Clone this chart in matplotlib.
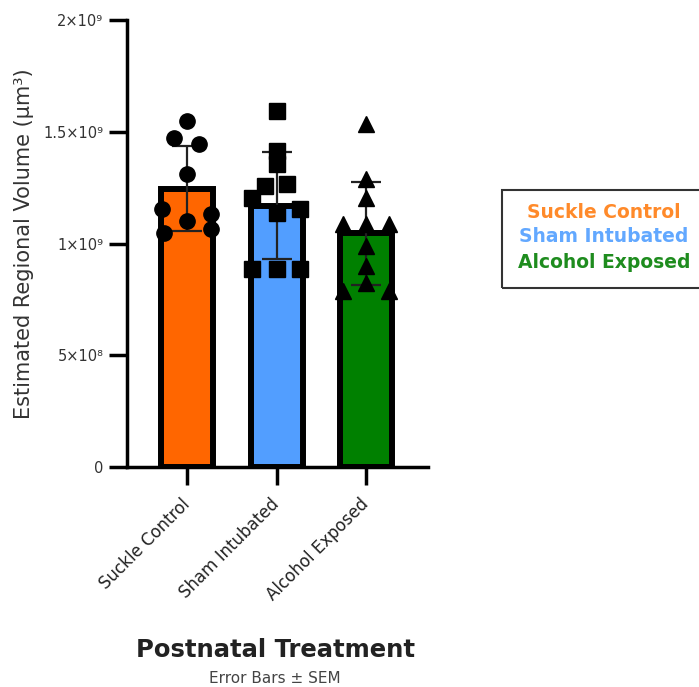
import matplotlib.pyplot as plt
import numpy as np
from matplotlib.patches import Rectangle

groups = ["Suckle Control", "Sham Intubated", "Alcohol Exposed"]
means = [1.245e9, 1.17e9, 1.045e9]
sem = [0.19e9, 0.24e9, 0.23e9]
suckle = [1.548e9, 1.472e9, 1.445e9, 1.311e9, 1.154e9, 1.132e9, 1.101e9, 1.047e9, 1.065e9]
sham = [1.593e9, 1.414e9, 1.356e9, 1.257e9, 1.266e9, 1.204e9, 1.154e9, 1.136e9, 0.886e9, 0.886e9, 0.886e9]
alcohol = [1.535e9, 1.289e9, 1.204e9, 1.087e9, 1.087e9, 1.087e9, 0.989e9, 0.90e9, 0.823e9, 0.787e9, 0.787e9]
yticks = [0, 5e8, 1e9, 1.5e9, 2e9]
ytick_labels = ["0", "5×10⁸", "1×10⁹", "1.5×10⁹", "2×10⁹"]

# horizontal spread of the dots inside each bar (layout only)
jit_suckle = [0, -0.145, 0.135, 0, -0.28, 0.27, 0, -0.26, 0.27]
jit_sham = [0, 0, 0, -0.13, 0.12, -0.28, 0.26, 0, -0.28, 0, 0.26]
jit_alcohol = [0, 0, 0, -0.26, 0, 0.26, 0, 0, 0, -0.26, 0.26]

bar_colors = ["#FF6600", "#529EFF", "#008000"]
text_colors = ["#FF8A2A", "#62A8FF", "#1E8C1E"]
markers = ["o", "s", "^"]

plt.rcParams.update({"font.family": "DejaVu Sans"})

fig = plt.figure(figsize=(6.99, 6.87), dpi=100)
ax = fig.add_axes([127/699, 1-467/687, 301/699, 447/687])

x = np.arange(len(groups))
ax.bar(x, means, width=0.58, color=bar_colors, edgecolor="black", linewidth=4.3, zorder=2)
ax.errorbar(x, means, yerr=sem, fmt="none", ecolor="#222222", elinewidth=1.6,
            capsize=11, capthick=1.6, zorder=3)

for i, (vals, jit) in enumerate([(suckle, jit_suckle), (sham, jit_sham), (alcohol, jit_alcohol)]):
    ax.plot(i + np.array(jit), vals, linestyle="none", marker=markers[i],
            markersize=11, color="black", zorder=4, clip_on=False)

ax.set_xlim(-0.67, 2.69)
ax.set_ylim(0, 2e9)
ax.set_yticks(yticks)
ax.set_yticklabels(ytick_labels, fontsize=10.5, color="#333333")
ax.set_xticks(x)
ax.set_xticklabels(groups, rotation=45, ha="right", va="center", rotation_mode="anchor",
                   fontsize=12, color="#222222")
ax.tick_params(axis="both", length=13, width=2.5, color="black")
ax.tick_params(axis="y", pad=4)
ax.tick_params(axis="x", pad=12)
for s in ["top", "right"]:
    ax.spines[s].set_visible(False)
for s in ["left", "bottom"]:
    ax.spines[s].set_linewidth(2.5)

ax.set_ylabel("Estimated Regional Volume (μm³)", fontsize=15, color="#333333")
ax.yaxis.set_label_coords(-0.31, 0.5)

fig.text(276/699, 1-657/687, "Postnatal Treatment", fontsize=17.5, fontweight="bold",
         color="#222222", ha="center", va="baseline")
fig.text(275/699, 1-683/687, "Error Bars ± SEM", fontsize=11, color="#444444",
         ha="center", va="baseline")

# legend box on the right
fig.patches.append(Rectangle((502/699, 1-288/687), 0.4, 98/687, transform=fig.transFigure,
                             fill=False, edgecolor="#333333", linewidth=1.5))
for name, c, yy in zip(groups, text_colors, [212, 237, 263]):
    fig.text(604/699, 1-yy/687, name, fontsize=13.5, fontweight="bold", color=c,
             ha="center", va="center")

plt.savefig("out.png", dpi=100)
